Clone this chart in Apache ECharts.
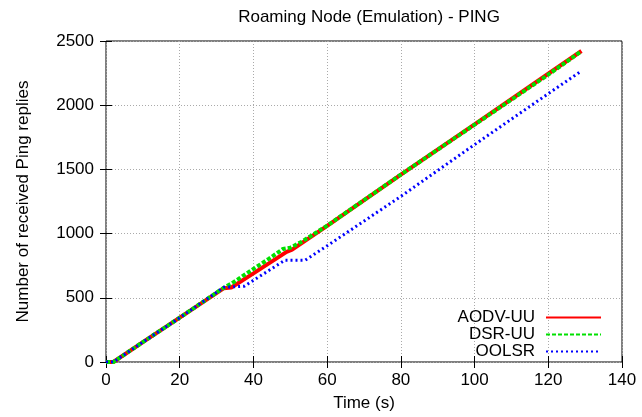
<!DOCTYPE html>
<html>
<head>
<meta charset="utf-8">
<script src="https://cdn.jsdelivr.net/npm/echarts@6/dist/echarts.min.js"></script>
<style>
  html, body { margin: 0; padding: 0; background: #fff; }
  #chart { width: 642px; height: 417px; }
</style>
</head>
<body>
<div id="chart"></div>
<script>
  // values
  const aodvTime = [0, 2, 10, 20, 32, 34, 40, 49, 50.5, 60, 80, 100, 120, 129];
  const aodvVal  = [0, 0, 155, 345, 575, 580, 690, 858, 875, 1060, 1460, 1850, 2245, 2422];

  const dsrTime = [0, 2, 10, 20, 32, 34, 40, 44, 48, 50, 53, 60, 80, 100, 120, 128.6];
  const dsrVal  = [0, 0, 155, 345, 580, 610, 725, 800, 880, 890, 935, 1062, 1460, 1848, 2238, 2412];

  const oolsrTime = [0, 2, 10, 20, 32, 37.5, 48.5, 54, 60, 80, 100, 120, 128.6];
  const oolsrVal  = [0, 0, 155, 345, 582, 590, 792, 792, 905, 1290, 1693, 2090, 2259];

  const xTicks = [0, 20, 40, 60, 80, 100, 120, 140];
  const yTicks = [0, 500, 1000, 1500, 2000, 2500];

  const font = 'Liberation Sans, Arial, Helvetica, sans-serif';

  const pairs = (t, v) => t.map((x, i) => [x, v[i]]);

  const chart = echarts.init(document.getElementById('chart'), null, { renderer: 'canvas' });

  const baseX = {
    type: 'value',
    min: xTicks[0],
    max: xTicks[xTicks.length - 1],
    interval: 20,
    axisLine: { show: false },
    axisTick: { show: true, inside: true, length: 6, lineStyle: { color: '#000' } },
    splitLine: { show: false },
    axisLabel: { show: false }
  };
  const baseY = {
    type: 'value',
    min: yTicks[0],
    max: yTicks[yTicks.length - 1],
    interval: 500,
    axisLine: { show: false },
    axisTick: { show: true, inside: true, length: 6, lineStyle: { color: '#000' } },
    splitLine: { show: false },
    axisLabel: { show: false }
  };

  chart.setOption({
    animation: false,
    title: {
      text: 'Roaming Node (Emulation) - PING',
      left: 364,
      top: 4,
      textAlign: 'center',
      textStyle: { fontFamily: font, fontSize: 17, fontWeight: 'normal', color: '#000' }
    },
    grid: {
      left: 106,
      right: 20,
      top: 41,
      bottom: 54,
      show: true,
      borderColor: '#000',
      borderWidth: 1,
      backgroundColor: 'transparent'
    },
    legend: {
      orient: 'vertical',
      align: 'right',
      right: 35,
      top: 304,
      itemGap: 0,
      itemWidth: 55,
      itemHeight: 17,
      itemStyle: { opacity: 0 },
      textStyle: { fontFamily: font, fontSize: 17, color: '#000', padding: [0, 6, 0, 0] },
      data: ['AODV-UU', 'DSR-UU', 'OOLSR']
    },
    xAxis: [
      Object.assign({}, baseX, {
        position: 'bottom',
        name: 'Time (s)',
        nameLocation: 'middle',
        nameGap: 33,
        nameTextStyle: { fontFamily: font, fontSize: 17, color: '#000' },
        axisLabel: { show: true, margin: 10, fontFamily: font, fontSize: 17, color: '#000' },
        splitLine: { show: true, lineStyle: { color: '#aaa', type: [1, 2], width: 1 } }
      }),
      Object.assign({}, baseX, { position: 'top' })
    ],
    yAxis: [
      Object.assign({}, baseY, {
        position: 'left',
        name: 'Number of received Ping replies',
        nameLocation: 'middle',
        nameGap: 74,
        nameTextStyle: { fontFamily: font, fontSize: 17, color: '#000' },
        axisLabel: { show: true, margin: 12, fontFamily: font, fontSize: 17, color: '#000',
          formatter: v => String(v) },
        splitLine: { show: true, lineStyle: { color: '#aaa', type: [1, 2], width: 1 } }
      }),
      Object.assign({}, baseY, { position: 'right' })
    ],
    series: [
      {
        name: 'AODV-UU',
        type: 'line',
        data: pairs(aodvTime, aodvVal),
        symbol: 'none',
        lineStyle: { color: '#ff0000', width: 4, type: 'solid' },
        itemStyle: { color: '#ff0000' },
        z: 2
      },
      {
        name: 'DSR-UU',
        type: 'line',
        data: pairs(dsrTime, dsrVal),
        symbol: 'none',
        lineStyle: { color: '#00e000', width: 4, type: [4, 2] },
        itemStyle: { color: '#00e000' },
        z: 3
      },
      {
        name: 'OOLSR',
        type: 'line',
        data: pairs(oolsrTime, oolsrVal),
        symbol: 'none',
        lineStyle: { color: '#0000ff', width: 3, type: [2, 3] },
        itemStyle: { color: '#0000ff' },
        z: 4
      }
    ]
  });
</script>
</body>
</html>
